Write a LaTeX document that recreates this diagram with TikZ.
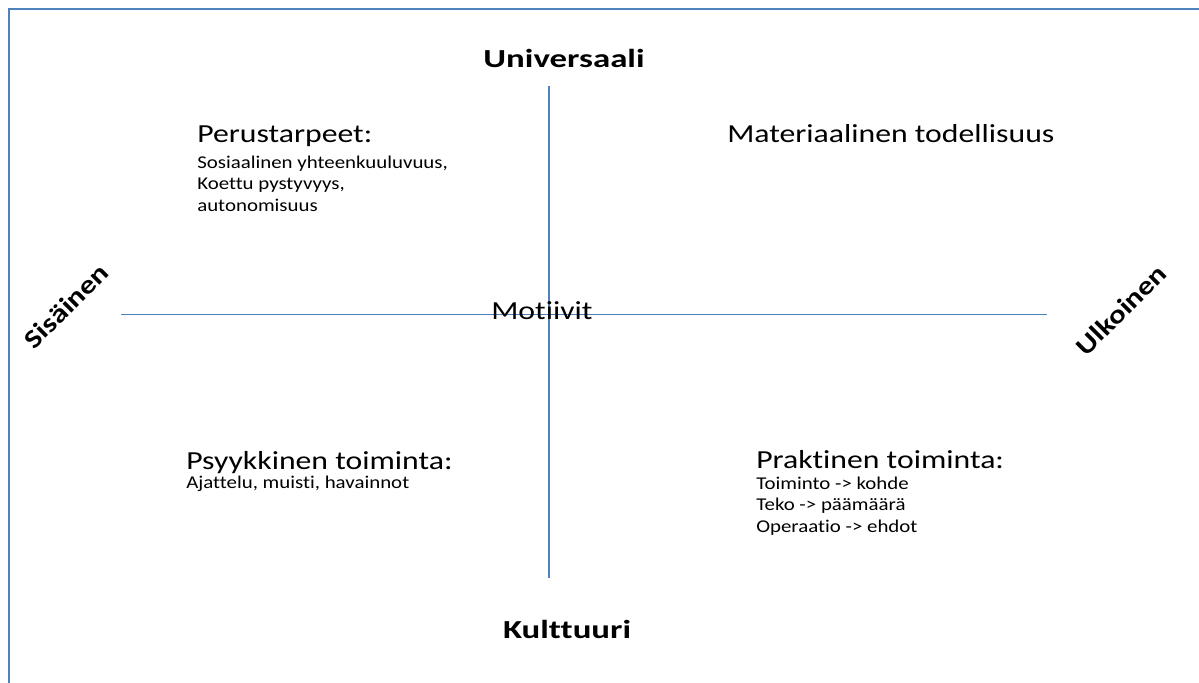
\documentclass[tikz,border=0pt]{standalone}
\usepackage{fontspec}
\setmainfont{Carlito}[FakeStretch=1.22,Ligatures=NoCommon]
\newfontfamily\polefont{Carlito}[FakeStretch=1.34,Ligatures=NoCommon]
\newfontfamily\sidefont{Carlito}[FakeStretch=1.2,Ligatures=NoCommon]
\newfontfamily\listfont{Carlito}[FakeStretch=1.16,Ligatures=NoCommon]
\usetikzlibrary{positioning}
\definecolor{axisblue}{HTML}{4F81BD}

\begin{document}
\begin{tikzpicture}[x=0.75pt,y=-0.75pt,
  frame/.style={draw=axisblue,line width=1.6pt},
  axis/.style={draw=axisblue},
  pole/.style={font=\polefont\bfseries\fontsize{19.5}{23}\selectfont,inner sep=0pt,anchor=base},
  side/.style={font=\sidefont\bfseries\fontsize{19.5}{23}\selectfont,inner sep=0pt,rotate=45},
  head/.style={font=\fontsize{19.5}{23}\selectfont,inner sep=0pt,anchor=base west},
  item/.style={font=\listfont\fontsize{13.5}{16}\selectfont,inner sep=0pt,anchor=base west}
]
  \useasboundingbox (0,0) rectangle (1199,682);
  \draw[frame] (9,690) -- (9,9) -- (1210,9);

  % axes
  \coordinate (vtop) at (549,86);
  \coordinate (vbot) at (549,578);
  \coordinate (hleft) at (121,314);
  \coordinate (hright) at (1047,314);
  \draw[axis,line width=1.1pt] (vtop) -- (vbot);
  \draw[axis,line width=0.75pt] (hleft) -- (hright);

  \node[pole] (univ) at (564,67) {Universaali};
  \node[pole] (kult) at (567,638) {Kulttuuri};
  \node[side] (sis) at (66,306) {Sisäinen};
  \node[side] (ulk) at (1121,310) {Ulkoinen};
  \node[head,anchor=base] (mot) at (542,319) {Motiivit};

  % quadrants
  \node[head] (perus) at (197,142) {Perustarpeet:};
  \foreach \txt [count=\i] in {{Sosiaalinen yhteenkuuluvuus,},{Koettu pystyvyys,},autonomisuus}
    \node[item] (perus\i) at (197,{146.5+21.5*\i}) {\txt};
  \node[head] (mater) at (727,142) {Materiaalinen todellisuus};
  \node[head] (psyk) at (186,469) {Psyykkinen toiminta:};
  \node[item] (psyk1) at (186,488) {Ajattelu, muisti, havainnot};
  \node[head] (prak) at (756,468) {Praktinen toiminta:};
  \foreach \txt [count=\i] in {Toiminto -> kohde,Teko -> päämäärä,Operaatio -> ehdot}
    \node[item] (prak\i) at (756,{467.5+21.5*\i}) {\txt};
\end{tikzpicture}
\end{document}
